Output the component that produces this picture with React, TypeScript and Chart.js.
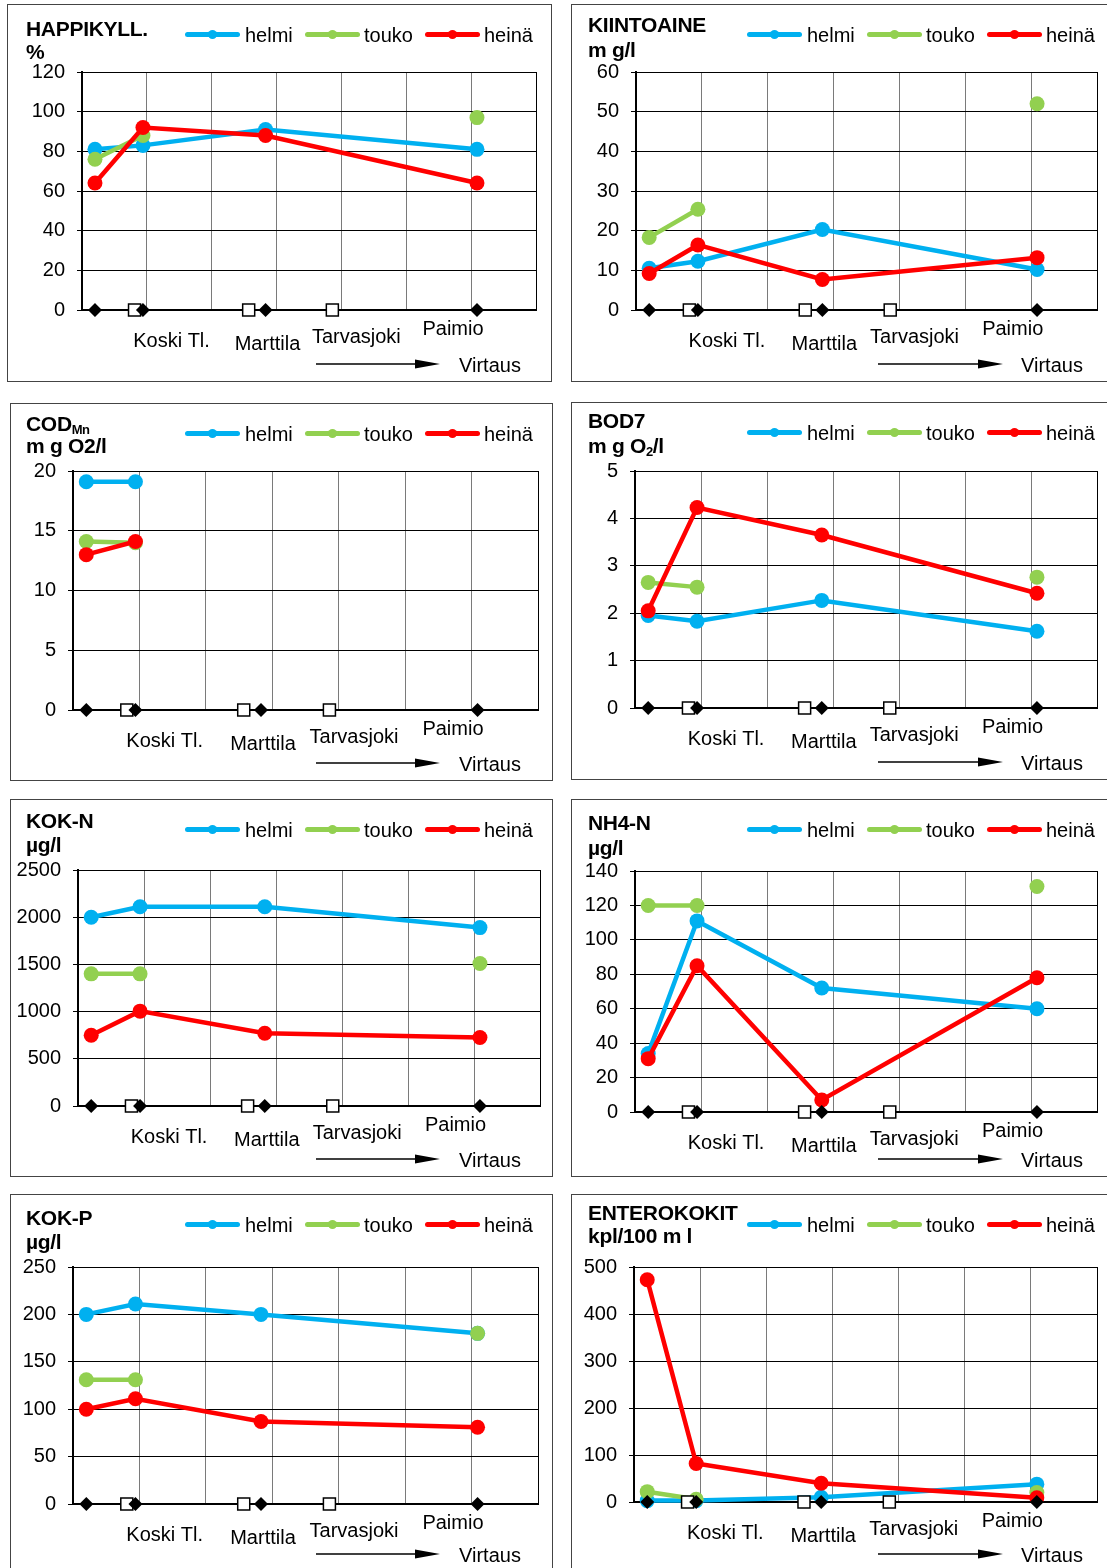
import React, { useEffect, useRef } from "react";
import { Chart, registerables } from "chart.js";

Chart.register(...registerables);

const FONT = '"Liberation Sans", Arial, Helvetica, sans-serif';

// ---- shared categories ----
const SERIES_NAMES = ["helmi", "touko", "heinä"];
const SERIES_COLORS = ["#00B0F0", "#92D050", "#FF0000"];
const STATION_X = [0.2, 0.94, 2.83, 6.09]; // main-river stations along flow
const TRIBUTARY_X = [0.81, 2.57, 3.86]; // tributary inflows
const STATION_LABELS = ["Koski Tl.", "Marttila", "Tarvasjoki", "Paimio"];
const STATION_LABEL_X = [1.38, 2.86, 4.23, 5.72];
const FLOW_LABEL = "Virtaus";
const X_MAX = 7;

// ---- series values (helmi, touko, heinä) per station ----
const HAPPI_HELMI = [81, 83, 91, 81];
const HAPPI_TOUKO = [76, 88, null, 97];
const HAPPI_HEINA = [64, 92, 88, 64];

const KIINTO_HELMI = [10.5, 12.3, 20.3, 10.2];
const KIINTO_TOUKO = [18.3, 25.4, null, 52];
const KIINTO_HEINA = [9.2, 16.4, 7.7, 13.2];

const COD_HELMI = [19.1, 19.1, null, null];
const COD_TOUKO = [14.1, 14.0, null, null];
const COD_HEINA = [13.0, 14.1, null, null];

const BOD_HELMI = [1.95, 1.83, 2.27, 1.62];
const BOD_TOUKO = [2.65, 2.55, null, 2.76];
const BOD_HEINA = [2.05, 4.23, 3.65, 2.42];

const KOKN_HELMI = [2000, 2110, 2110, 1890];
const KOKN_TOUKO = [1400, 1400, null, 1510];
const KOKN_HEINA = [750, 1005, 770, 725];

const NH4_HELMI = [34, 111, 72, 60];
const NH4_TOUKO = [120, 120, null, 131];
const NH4_HEINA = [31, 85, 7, 78];

const KOKP_HELMI = [200, 211, 200, 180];
const KOKP_TOUKO = [131, 131, null, 180];
const KOKP_HEINA = [100, 111, 87, 81];

const ENT_HELMI = [3, 3, 10, 38];
const ENT_TOUKO = [22, 6, null, 20];
const ENT_HEINA = [473, 82, 40, 9];

// ---- y axis ranges ----
const Y_MAX = [120, 60, 20, 5, 2500, 140, 250, 500];
const Y_STEP = [20, 10, 5, 1, 500, 20, 50, 100];

const subStyle: React.CSSProperties = { fontSize: 13, position: "relative", top: 3, letterSpacing: -0.5 };

const TITLES: React.ReactNode[][] = [
  ["HAPPIKYLL.", "%"],
  ["KIINTOAINE", "m g/l"],
  [<>COD<span style={subStyle}>Mn</span></>, "m g O2/l"],
  ["BOD7", <>m g O<span style={subStyle}>2</span>/l</>],
  ["KOK-N", "µg/l"],
  ["NH4-N", "µg/l"],
  ["KOK-P", "µg/l"],
  ["ENTEROKOKIT", "kpl/100 m l"],
];

const SERIES = [
  [HAPPI_HELMI, HAPPI_TOUKO, HAPPI_HEINA],
  [KIINTO_HELMI, KIINTO_TOUKO, KIINTO_HEINA],
  [COD_HELMI, COD_TOUKO, COD_HEINA],
  [BOD_HELMI, BOD_TOUKO, BOD_HEINA],
  [KOKN_HELMI, KOKN_TOUKO, KOKN_HEINA],
  [NH4_HELMI, NH4_TOUKO, NH4_HEINA],
  [KOKP_HELMI, KOKP_TOUKO, KOKP_HEINA],
  [ENT_HELMI, ENT_TOUKO, ENT_HEINA],
];

// ---- layout (page coordinates) ----
const COLUMNS = [
  { titleX: 26, legendX: 185, arrow: [316, 440], flowX: 459 },
  { titleX: 588, legendX: 747, arrow: [878, 1003], flowX: 1021 },
];

const LAYOUT = [
  { box: [7, 4, 545, 378], plot: [82, 72, 536, 310], col: 0, titleY: [36, 59] },
  { box: [571, 4, 545, 378], plot: [636, 72, 1097, 310], col: 1, titleY: [32, 57] },
  { box: [10, 403, 543, 378], plot: [73, 471, 538, 710], col: 0, titleY: [431, 453] },
  { box: [571, 402, 545, 378], plot: [635, 471, 1097, 708], col: 1, titleY: [428, 453] },
  { box: [10, 799, 543, 378], plot: [78, 870, 540, 1106], col: 0, titleY: [828, 852] },
  { box: [571, 799, 545, 378], plot: [635, 871, 1097, 1112], col: 1, titleY: [830, 855] },
  { box: [10, 1194, 543, 378], plot: [73, 1267, 538, 1504], col: 0, titleY: [1225, 1249] },
  { box: [571, 1194, 545, 378], plot: [634, 1267, 1097, 1502], col: 1, titleY: [1220, 1243] },
];

const LABEL_DY = [37, 40, 33, 25];
const LEGEND_LINE_X = [0, 120, 240];
const LEGEND_TEXT_X = [60, 179, 299];

function Panel({ idx }: { idx: number }) {
  const ref = useRef<HTMLCanvasElement>(null);
  const lay = LAYOUT[idx];
  const col = COLUMNS[lay.col];
  const [bx, by, bw, bh] = lay.box;
  const cw = bw - 2;
  const ch = bh - 2;
  const ox = bx + 1;
  const oy = by + 1;

  useEffect(() => {
    const [L, T, R, B] = lay.plot;
    const left = L - ox;
    const top = T - oy;
    const right = R - ox;
    const bottom = B - oy;

    const lineSets = SERIES[idx].map((vals, i) => ({
      label: SERIES_NAMES[i],
      data: STATION_X.map((x, k) => ({ x, y: vals[k] })),
      borderColor: SERIES_COLORS[i],
      backgroundColor: SERIES_COLORS[i],
      pointBackgroundColor: SERIES_COLORS[i],
      pointBorderColor: SERIES_COLORS[i],
      borderWidth: 4.5,
      pointRadius: 7.5,
      pointBorderWidth: 0,
      pointHoverRadius: 7.5,
      tension: 0,
      spanGaps: false,
      clip: false,
      order: 4 - i,
    }));

    const squares = {
      label: "sivujoki",
      data: TRIBUTARY_X.map((x) => ({ x, y: 0 })),
      showLine: false,
      pointStyle: "rect",
      pointRadius: 8.5,
      pointBackgroundColor: "#ffffff",
      pointBorderColor: "#000000",
      pointBorderWidth: 1.5,
      clip: false,
      order: 1,
    };
    const diamonds = {
      label: "asema",
      data: STATION_X.map((x) => ({ x, y: 0 })),
      showLine: false,
      pointStyle: "rectRot",
      pointRadius: 7,
      pointBackgroundColor: "#000000",
      pointBorderColor: "#000000",
      pointBorderWidth: 0,
      clip: false,
      order: 0,
    };

    const overlay = {
      id: "overlay" + idx,
      afterDraw(chart: any) {
        const ctx = chart.ctx;
        const xs = chart.scales.x;
        const cb = chart.chartArea.bottom;
        ctx.save();
        ctx.fillStyle = "#000";
        ctx.font = `20px ${FONT}`;
        ctx.textAlign = "center";
        ctx.textBaseline = "alphabetic";
        STATION_LABELS.forEach((t, i) => {
          ctx.fillText(t, xs.getPixelForValue(STATION_LABEL_X[i]), cb + LABEL_DY[i]);
        });
        // flow arrow
        const ay = by + 360 - oy;
        const a0 = col.arrow[0] - ox;
        const a1 = col.arrow[1] - ox;
        ctx.strokeStyle = "#000";
        ctx.lineWidth = 1.5;
        ctx.beginPath();
        ctx.moveTo(a0, ay);
        ctx.lineTo(a1 - 20, ay);
        ctx.stroke();
        ctx.beginPath();
        ctx.moveTo(a1, ay);
        ctx.lineTo(a1 - 25, ay - 4.5);
        ctx.lineTo(a1 - 25, ay + 4.5);
        ctx.closePath();
        ctx.fill();
        ctx.textAlign = "left";
        ctx.fillText(FLOW_LABEL, col.flowX - ox, by + 368 - oy);
        ctx.restore();
      },
    };

    const chart = new Chart(ref.current as HTMLCanvasElement, {
      type: "line",
      data: { datasets: [...lineSets, squares, diamonds] as any },
      options: {
        responsive: false,
        animation: false,
        events: [],
        layout: { padding: { left: 0, top, right: cw - right, bottom: ch - bottom } },
        plugins: { legend: { display: false }, tooltip: { enabled: false } },
        scales: {
          x: {
            type: "linear",
            min: 0,
            max: X_MAX,
            afterFit: (s: any) => {
              s.height = 0;
            },
            ticks: { display: false, stepSize: 1 },
            grid: {
              drawTicks: false,
              lineWidth: 1,
              color: (c: any) => (c.tick && c.tick.value === X_MAX ? "#000000" : "#7a7a7a"),
            },
            border: { display: true, color: "#000", width: 2 },
          },
          y: {
            min: 0,
            max: Y_MAX[idx],
            afterFit: (s: any) => {
              s.width = left;
            },
            ticks: {
              stepSize: Y_STEP[idx],
              color: "#000",
              font: { family: FONT, size: 20 },
              padding: 12,
              callback: (v: any) => String(v),
            },
            grid: { color: "#000", lineWidth: 1, tickLength: 5, drawTicks: true, tickColor: "#000" },
            border: { display: true, color: "#000", width: 2 },
          },
        },
      } as any,
      plugins: [overlay],
    });
    return () => chart.destroy();
  }, []);

  const [t1, t2] = TITLES[idx];
  const titleStyle: React.CSSProperties = {
    position: "absolute",
    left: col.titleX - ox,
    fontFamily: FONT,
    fontWeight: "bold",
    fontSize: 21,
    lineHeight: "23px",
    whiteSpace: "nowrap",
    color: "#000",
    letterSpacing: -0.3,
  };
  const legY = by + 30 - oy;

  return (
    <div
      style={{
        position: "absolute",
        left: bx,
        top: by,
        width: bw,
        height: bh,
        border: "1px solid #444",
        boxSizing: "border-box",
        background: "#fff",
      }}
    >
      <canvas
        ref={ref}
        width={cw}
        height={ch}
        style={{ position: "absolute", left: 0, top: 0, width: cw, height: ch }}
      />
      <div style={{ ...titleStyle, top: lay.titleY[0] - 19 - oy }}>{t1}</div>
      <div style={{ ...titleStyle, top: lay.titleY[1] - 19 - oy }}>{t2}</div>
      {SERIES_NAMES.map((name, i) => (
        <React.Fragment key={name}>
          <div
            style={{
              position: "absolute",
              left: col.legendX + LEGEND_LINE_X[i] - ox,
              top: legY - 2.5,
              width: 55,
              height: 5,
              borderRadius: 2.5,
              background: SERIES_COLORS[i],
            }}
          />
          <div
            style={{
              position: "absolute",
              left: col.legendX + LEGEND_LINE_X[i] + 27.5 - 4.5 - ox,
              top: legY - 4.5,
              width: 9,
              height: 9,
              borderRadius: "50%",
              background: SERIES_COLORS[i],
            }}
          />
          <div
            style={{
              position: "absolute",
              left: col.legendX + LEGEND_TEXT_X[i] - ox,
              top: legY + 8 - 18,
              fontFamily: FONT,
              fontSize: 20,
              lineHeight: "22px",
              color: "#000",
              whiteSpace: "nowrap",
            }}
          >
            {name}
          </div>
        </React.Fragment>
      ))}
    </div>
  );
}

export default function App() {
  return (
    <div
      style={{
        position: "absolute",
        left: 0,
        top: 0,
        width: 1107,
        height: 1568,
        overflow: "hidden",
        background: "#fff",
      }}
    >
      {LAYOUT.map((_, i) => (
        <Panel key={i} idx={i} />
      ))}
    </div>
  );
}
